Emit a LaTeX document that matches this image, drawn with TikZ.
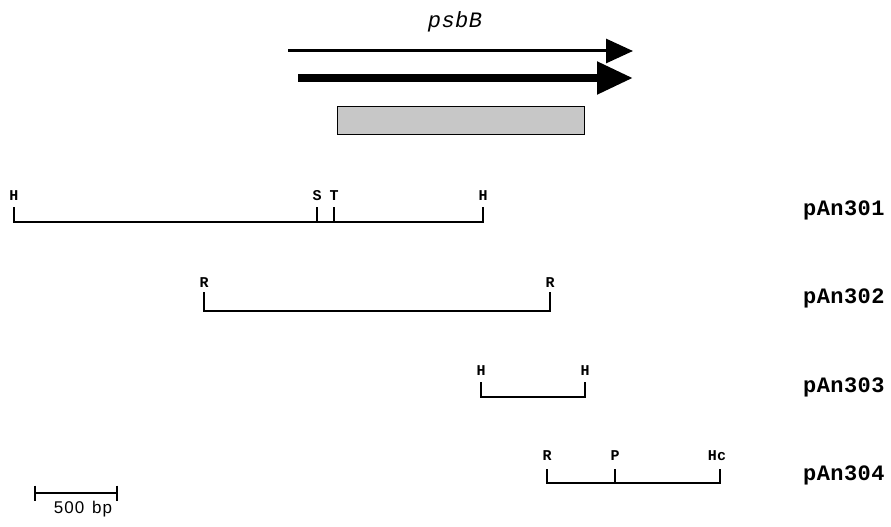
\documentclass[tikz,border=0pt]{standalone}
\usepackage{fontspec}
\newfontfamily\sitefont[LetterSpace=2]{Liberation Mono}
\newfontfamily\genefont[LetterSpace=2]{Liberation Mono}
\newfontfamily\scalefont[LetterSpace=6]{Liberation Sans}
\usetikzlibrary{arrows.meta}
\begin{document}
\begin{tikzpicture}[x=1pt,y=-1pt,
  site/.style={font=\sitefont\bfseries\fontsize{15}{15}\selectfont, inner sep=0pt, anchor=base},
  clone/.style={font=\sitefont\bfseries\fontsize{22}{22}\selectfont, inner sep=0pt, anchor=base west},
  map/.style={line width=2pt, line cap=butt, line join=miter}
]
\useasboundingbox (0,0) rectangle (891,527);

% gene label and transcripts
\node[font=\genefont\itshape\fontsize{22}{22}\selectfont, inner sep=0pt, anchor=base] (gene) at (455,28) {psbB};
\coordinate (t1s) at (288,51);
\coordinate (t1e) at (633,51);
\coordinate (t2s) at (298,78);
\coordinate (t2e) at (633,78);
\draw[line width=3pt, -{Triangle[length=27pt 0 0, width=24pt 0 0]}] (t1s) -- (t1e);
\draw[line width=8pt, -{Triangle[length=36pt 0 0, width=31pt 0 0]}] (t2s) -- (t2e);
\node[draw=black, line width=1.8pt, fill=black!22, minimum width=247pt, minimum height=28pt, inner sep=0pt] (orf) at (461,120.5) {};

% pAn301
\node[site] (h11) at (14,200) {H};
\node[site] (s1) at (317,200) {S};
\node[site] (t1) at (334,200) {T};
\node[site] (h12) at (483,200) {H};
\coordinate (h11a) at (14,207);
\coordinate (h12a) at (483,207);
\draw[map] (h11a) -- ++(0,15) -| (h12a);
\coordinate (s1a) at (317,207);
\coordinate (t1a) at (334,207);
\draw[map] (s1a) -- ++(0,15);
\draw[map] (t1a) -- ++(0,15);
\node[clone] (c1) at (803,215) {pAn301};

% pAn302
\node[site] (r21) at (204,287) {R};
\node[site] (r22) at (550,287) {R};
\coordinate (r21a) at (204,292);
\coordinate (r22a) at (550,292);
\draw[map] (r21a) -- ++(0,19) -| (r22a);
\node[clone] (c2) at (803,303) {pAn302};

% pAn303
\node[site] (h31) at (481,375) {H};
\node[site] (h32) at (585,375) {H};
\coordinate (h31a) at (481,382);
\coordinate (h32a) at (585,382);
\draw[map] (h31a) -- ++(0,15) -| (h32a);
\node[clone] (c3) at (803,392) {pAn303};

% pAn304
\node[site] (r41) at (547,460) {R};
\node[site] (p4) at (615,460) {P};
\node[site] (hc4) at (717,460) {Hc};
\coordinate (r41a) at (547,469);
\coordinate (p4a) at (615,469);
\coordinate (hc4a) at (720,469);
\draw[map] (r41a) -- ++(0,14) -| (hc4a);
\draw[map] (p4a) -- ++(0,14);
\node[clone] (c4) at (803,480) {pAn304};

% scale bar
\coordinate (sb1) at (35,493);
\coordinate (sb2) at (117,493);
\draw[map] (sb1) -- (sb2);
\draw[map] ([yshift=7.5pt]sb1) -- ([yshift=-7.5pt]sb1);
\draw[map] ([yshift=7.5pt]sb2) -- ([yshift=-7.5pt]sb2);
\node[font=\scalefont\fontsize{17}{17}\selectfont, inner sep=0pt, anchor=base] (sbl) at (83,513) {500\hspace{8pt}bp};
\end{tikzpicture}
\end{document}
